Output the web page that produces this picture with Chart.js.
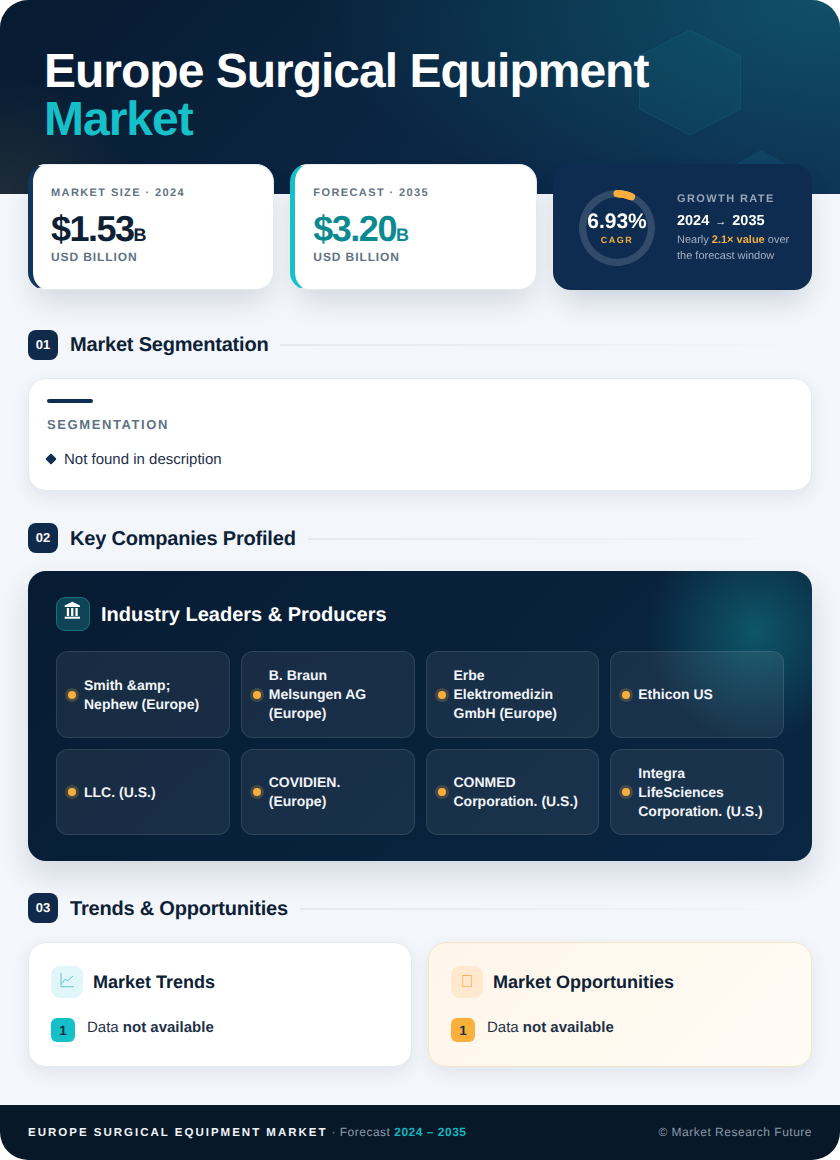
<!DOCTYPE html>
<html lang="en">
<head>
<meta charset="UTF-8">
<title>Europe Surgical Equipment Market</title>
<script src="https://cdn.jsdelivr.net/npm/chart.js"></script>
<style>
  * { box-sizing: border-box; margin: 0; padding: 0; }
  html, body { width: 840px; height: 1160px; overflow: hidden; background: #fff; }
  body { font-family: "Liberation Sans", Arial, sans-serif; color: #0d2136; text-rendering: geometricPrecision; }
  #page { position: relative; width: 840px; height: 1160px; background: #f3f6fa; border-radius: 28px; overflow: hidden; }
  .abs { position: absolute; white-space: nowrap; }

  #hero { position: absolute; left: 0; top: 0; width: 840px; height: 194px; overflow: hidden;
    background:
      radial-gradient(circle at 0px 215px, rgba(110,95,60,.26), rgba(110,95,60,0) 140px),
      radial-gradient(ellipse 520px 220px at 820px 0px, rgba(20,140,150,.38), rgba(20,140,150,0) 100%),
      linear-gradient(135deg, #071a30 0%, #0b2745 60%, #0e2f52 100%); }
  #hexes { position: absolute; left: 0; top: 0; }
  h1 { position: absolute; left: 44px; top: 48px; font-size: 48px; line-height: 48px; font-weight: 700; color: #fff; letter-spacing: -1px; }
  h1 span { color: #15c0c8; display: block; }

  .stat { position: absolute; top: 164px; width: 246.33px; height: 126px; background: #fff; border-radius: 18px;
    border: 1px solid #e4eaf0; border-left-width: 5px; box-shadow: 0 16px 30px -8px rgba(15,42,74,.17); }
  .stat .lab { position: absolute; left: 18px; top: 22px; font-size: 11px; font-weight: 700; letter-spacing: 1.4px; color: #5f7386; }
  .stat .val { position: absolute; left: 18px; top: 43px; font-size: 36px; line-height: 42px; font-weight: 700; letter-spacing: -1.5px; }
  .stat .val small { font-size: 18px; letter-spacing: 0; }
  .stat .unit { position: absolute; left: 18px; top: 85px; font-size: 12px; font-weight: 700; letter-spacing: 0.9px; color: #5f7386; }

  #growth { position: absolute; left: 552.67px; top: 164px; width: 259.33px; height: 126px; background: #0e2c50; border-radius: 18px;
    box-shadow: 0 16px 30px -8px rgba(15,42,74,.2); }
  #gauge { position: absolute; left: 24.33px; top: 24px; width: 80px; height: 80px; }
  #gaugeText { position: absolute; left: 24.33px; top: 24px; width: 80px; height: 80px; text-align: center; color: #fff; }
  #gaugeText b { position: absolute; left: 0; width: 80px; top: 22px; font-size: 21px; line-height: 24px; }
  #gaugeText span { position: absolute; left: 0; width: 80px; top: 46px; font-size: 9px; line-height: 12px; font-weight: 700; letter-spacing: 1.5px; color: #f5b041; }
  #growth .g1 { left: 124.33px; top: 29px; font-size: 11px; font-weight: 700; letter-spacing: 1.4px; color: #97a6b8; }
  #growth .g2 { left: 124.33px; top: 48px; font-size: 14.5px; line-height: 18px; font-weight: 700; color: #fff; }
  #growth .g2 span { font-size: 11px; margin: 0 2px; }
  #growth .g3 { left: 124.33px; top: 68px; font-size: 11px; line-height: 16px; color: #a3b1c2; }
  #growth .g3 b { color: #f5b041; }

  .secnum { position: absolute; left: 28px; width: 30px; height: 30px; border-radius: 8px; background: #0f2a4a; color: #fff;
    font-size: 13px; font-weight: 700; line-height: 30px; text-align: center; }
  .sectitle { position: absolute; left: 70px; font-size: 20px; letter-spacing: -0.2px; line-height: 30px; font-weight: 700; color: #0d2136; white-space: nowrap; }
  .secline { position: absolute; height: 2px; right: 28px; background: linear-gradient(90deg, #e4e9f0, rgba(228,233,240,0)); }

  #segCard { position: absolute; left: 28px; top: 378px; width: 784px; height: 113px; background: #fff; border: 1px solid #e4eaf0;
    border-radius: 18px; box-shadow: 0 6px 18px rgba(15,42,74,.08); }
  #segCard .accent { position: absolute; left: 18px; top: 20px; width: 46px; height: 4px; border-radius: 2px; background: #0f2f52; }
  #segCard .h { left: 18px; top: 38px; font-size: 13px; font-weight: 700; letter-spacing: 1.6px; color: #5f7386; }
  #segCard .d { position: absolute; left: 18px; top: 76px; width: 8px; height: 8px; background: #0f2f52; transform: rotate(45deg); border-radius: 1px; }
  #segCard .t { left: 35px; top: 72px; font-size: 15px; line-height: 18px; color: #1e3048; }

  #leaders { position: absolute; left: 28px; top: 571px; width: 784px; height: 290px; border-radius: 18px; overflow: hidden;
    background:
      radial-gradient(circle at 727px 60px, rgba(20,140,150,.48), rgba(20,140,150,0) 110px),
      linear-gradient(135deg, #071c33 0%, #0a2643 100%);
    box-shadow: 0 14px 30px rgba(15,42,74,.14); }
  #bank { position: absolute; left: 28px; top: 26px; width: 34px; height: 34px; border-radius: 9px; background: #0e4456; border: 1px solid #16707e; }
  #bank svg { position: absolute; left: -1px; top: -1px; }
  #leaders .h { left: 73px; top: 31px; font-size: 20px; line-height: 26px; font-weight: 700; color: #fff; }
  .co { position: absolute; width: 173.75px; height: 87px; border-radius: 12px; background: rgba(255,255,255,.065); border: 1px solid rgba(255,255,255,.1);
    display: flex; align-items: center; padding-left: 27px; color: #f1f4f8; font-size: 14px; line-height: 19px; font-weight: 700; }
  .co i { position: absolute; left: 11px; top: 50%; margin-top: -4px; width: 8px; height: 8px; border-radius: 50%; background: #f9ae3d; box-shadow: 0 0 0 3px rgba(249,174,61,.2); }

  .tcard { position: absolute; top: 942px; width: 384px; height: 125px; border-radius: 18px; box-shadow: 0 6px 18px rgba(15,42,74,.08); }
  .tcard .ic { position: absolute; left: 22px; top: 23px; width: 32px; height: 32px; border-radius: 9px; font-size: 17px; line-height: 31px; text-align: center; }
  .tcard .h { left: 64px; top: 26px; font-size: 18px; line-height: 26px; font-weight: 700; color: #0d2136; }
  .tcard .n { position: absolute; left: 22px; top: 75px; width: 24px; height: 24px; border-radius: 6px; font-size: 13.5px; line-height: 25px; font-weight: 700; text-align: center; color: #143042; }
  .tcard .t { left: 58px; top: 75px; font-size: 15px; line-height: 19px; color: #1e3048; }

  #footer { position: absolute; left: 0; top: 1105px; width: 840px; height: 55px; background: #071828; font-size: 12px; line-height: 55px; }
  #footer .l { left: 28px; top: 0; color: #8a9aa8; letter-spacing: .5px; }
  #footer .l b { color: #f1f4f8; letter-spacing: 2px; font-size: 11.5px; }
  #footer .l em { color: #15b6bf; font-style: normal; font-weight: 700; }
  #footer .r { right: 28px; top: 0; color: #8a9aa8; letter-spacing: .5px; }
</style>
</head>
<body>
<div id="page">
  <div id="hero">
    <svg id="hexes" width="840" height="194">
      <polygon points="690,30 740.5,56 740.5,109 690,135 639.5,109 639.5,56" fill="rgba(30,170,175,0.08)" stroke="rgba(30,170,175,0.16)"/>
      <polygon points="761,150 790,166 790,200 732,200 732,166" fill="#124263"/>
    </svg>
    <h1 id="title"></h1>
  </div>
  <div id="stats"></div>
  <div id="growth">
    <canvas id="gauge" width="80" height="80"></canvas>
    <div id="gaugeText"><b id="cagrText"></b><span>CAGR</span></div>
    <div class="abs g1">GROWTH RATE</div>
    <div class="abs g2">2024 <span>→</span> 2035</div>
    <div class="abs g3">Nearly <b>2.1× value</b> over<br>the forecast window</div>
  </div>

  <div class="secnum" style="top:330px">01</div>
  <div class="sectitle" style="top:330px">Market Segmentation</div>
  <div class="secline" style="top:344px;left:280px"></div>
  <div id="segCard">
    <div class="accent"></div>
    <div class="abs h">SEGMENTATION</div>
    <div class="d"></div>
    <div class="abs t" id="segText"></div>
  </div>

  <div class="secnum" style="top:523px">02</div>
  <div class="sectitle" style="top:524px">Key Companies Profiled</div>
  <div class="secline" style="top:538px;left:308px"></div>
  <div id="leaders">
    <div id="bank">
      <svg width="34" height="34" fill="#fff">
        <polygon points="16.3,4.7 24,8.6 24,10 8.7,10 8.7,8.6"/>
        <rect x="10.8" y="11" width="2.3" height="8"/>
        <rect x="15.1" y="11" width="2.3" height="8"/>
        <rect x="19.4" y="11" width="2.3" height="8"/>
        <rect x="8.7" y="19.7" width="15.3" height="2"/>
      </svg>
    </div>
    <div class="abs h">Industry Leaders &amp; Producers</div>
  </div>

  <div class="secnum" style="top:893px">03</div>
  <div class="sectitle" style="top:894px">Trends &amp; Opportunities</div>
  <div class="secline" style="top:908px;left:300px"></div>
  <div class="tcard" style="left:28px;background:#fff;border:1px solid #e4eaf0">
    <div class="ic" style="background:#e0f6f8">
      <svg width="32" height="32" fill="none" stroke="#63c3c8" stroke-width="1" style="position:absolute;left:0;top:0">
        <polyline points="10,7 10,20.7 22.7,20.7"/>
        <polyline points="11,17.3 14,13.3 16.7,14.7 22,10"/>
      </svg>
    </div>
    <div class="abs h">Market Trends</div>
    <div class="n" style="background:#15c0c8">1</div>
    <div class="abs t">Data <b>not available</b></div>
  </div>
  <div class="tcard" style="left:428px;background:linear-gradient(135deg,#fff6ea,#fffbf5);border:1px solid #f5e4c8">
    <div class="ic" style="background:#fee9cf;color:#f2a63a">&#xE000;</div>
    <div class="abs h">Market Opportunities</div>
    <div class="n" style="background:#fbb03b">1</div>
    <div class="abs t">Data <b>not available</b></div>
  </div>

  <div id="footer">
    <div class="abs l"><b>EUROPE SURGICAL EQUIPMENT MARKET</b> · Forecast <em>2024 – 2035</em></div>
    <div class="abs r">© Market Research Future</div>
  </div>
</div>

<script>
// Values
const titleLines = ["Europe Surgical Equipment", "Market"];
const statLabels = ["MARKET SIZE · 2024", "FORECAST · 2035"];
const statValues = [1.53, 3.20];
const cagrPercent = 6.93;
const segments = ["Not found in description"];
const companies = [
  "Smith &amp;amp;<br>Nephew (Europe)",
  "B. Braun<br>Melsungen AG<br>(Europe)",
  "Erbe<br>Elektromedizin<br>GmbH (Europe)",
  "Ethicon US",
  "LLC. (U.S.)",
  "COVIDIEN.<br>(Europe)",
  "CONMED<br>Corporation. (U.S.)",
  "Integra<br>LifeSciences<br>Corporation. (U.S.)"
];

document.getElementById("title").innerHTML = titleLines[0] + "<span>" + titleLines[1] + "</span>";
document.getElementById("segText").textContent = segments[0];
document.getElementById("cagrText").textContent = cagrPercent.toFixed(2) + "%";

// Stat cards
const statColors = [["#12355b", "#0d2136"], ["#15c0c8", "#0b8a92"]];
document.getElementById("stats").innerHTML = statValues.map((v, i) =>
  `<div class="stat" style="left:${i === 0 ? 28 : 290.33}px;border-left-color:${statColors[i][0]}">
     <div class="abs lab">${statLabels[i]}</div>
     <div class="abs val" style="color:${statColors[i][1]}">$${v.toFixed(2)}<small>B</small></div>
     <div class="abs unit">USD BILLION</div>
   </div>`).join("");

// Company grid
const colX = [28, 212.75, 397.5, 582.25];
const rowY = [80, 178];
document.getElementById("leaders").insertAdjacentHTML("beforeend", companies.map((c, i) =>
  `<div class="co" style="left:${colX[i % 4]}px;top:${rowY[Math.floor(i / 4)]}px;${i >= 4 ? "height:86px" : ""}"><i></i><div>${c}</div></div>`).join(""));

// Round caps on the first arc, as the gauge in the picture has them
const roundCaps = {
  id: "roundCaps",
  afterDatasetsDraw(chart) {
    const arc = chart.getDatasetMeta(0).data[0];
    const p = arc.getProps(["x", "y", "startAngle", "endAngle", "innerRadius", "outerRadius"], true);
    const ctx = chart.ctx;
    ctx.save();
    ctx.beginPath();
    ctx.arc(p.x, p.y, (p.innerRadius + p.outerRadius) / 2, p.startAngle, p.endAngle);
    ctx.lineWidth = p.outerRadius - p.innerRadius;
    ctx.lineCap = "round";
    ctx.strokeStyle = "#f9ae3d";
    ctx.stroke();
    ctx.restore();
  }
};

new Chart(document.getElementById("gauge"), {
  type: "doughnut",
  data: {
    labels: ["CAGR", "Rest"],
    datasets: [{
      data: [cagrPercent, 100 - cagrPercent],
      backgroundColor: ["#f9ae3d", "rgba(255,255,255,0.15)"],
      borderWidth: 0
    }]
  },
  options: {
    responsive: false,
    animation: false,
    cutout: "81%",
    layout: { padding: 2 },
    plugins: { legend: { display: false }, tooltip: { enabled: false } }
  },
  plugins: [roundCaps]
});
</script>
</body>
</html>
